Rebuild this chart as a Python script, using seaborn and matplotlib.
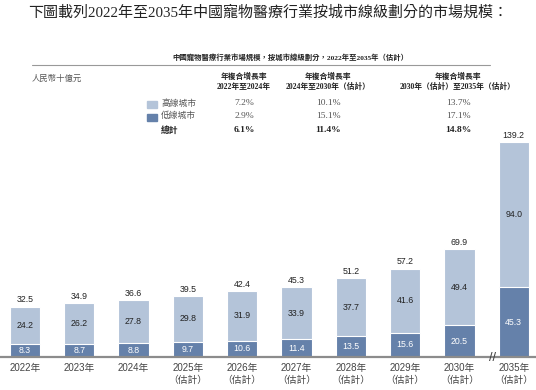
import matplotlib
matplotlib.use("Agg")
import matplotlib.pyplot as plt
import seaborn as sns
import pandas as pd

# data
years = ["2022年", "2023年", "2024年", "2025年\n（估計）", "2026年\n（估計）", "2027年\n（估計）",
         "2028年\n（估計）", "2029年\n（估計）", "2030年\n（估計）", "2035年\n（估計）"]
high_tier = [24.2, 26.2, 27.8, 29.8, 31.9, 33.9, 37.7, 41.6, 49.4, 94.0]
low_tier = [8.3, 8.7, 8.8, 9.7, 10.6, 11.4, 13.5, 15.6, 20.5, 45.3]
totals = [32.5, 34.9, 36.6, 39.5, 42.4, 45.3, 51.2, 57.2, 69.9, 139.2]

cagr_headers = ["年複合增長率\n2022年至2024年", "年複合增長率\n2024年至2030年（估計）",
                "年複合增長率\n2030年（估計）至2035年（估計）"]
cagr_high = ["7.2%", "10.1%", "13.7%"]
cagr_low = ["2.9%", "15.1%", "17.1%"]
cagr_total = ["6.1%", "11.4%", "14.8%"]

light = "#B4C4D9"
dark = "#6581AA"
serif = ["Liberation Serif", "Noto Sans CJK TC"]
sans = ["Liberation Sans", "Noto Sans CJK TC"]

sns.set_theme(style="white")
plt.rcParams["font.family"] = sans

df = pd.DataFrame({"year": years, "high": high_tier, "low": low_tier, "total": totals})

W, H = 536, 390
fig = plt.figure(figsize=(W / 100, H / 100), dpi=100)
base_px = 357
top_px = 132
ax = fig.add_axes([0, (H - base_px) / H, 1, (base_px - top_px) / H])

sns.barplot(data=df, x="year", y="total", color=light, saturation=1, width=0.56,
            edgecolor="white", linewidth=0.8, ax=ax)
sns.barplot(data=df, x="year", y="low", color=dark, saturation=1, width=0.56,
            edgecolor="white", linewidth=0.8, ax=ax)

ax.set_ylim(0, (base_px - top_px) / 1.545)
ax.set_xlim(-0.46, 9.41)
ax.set_xlabel("")
ax.set_ylabel("")
ax.set_yticks([])
for s in ["top", "left", "right"]:
    ax.spines[s].set_visible(False)
ax.spines["bottom"].set_color("#8c8c8c")
ax.spines["bottom"].set_linewidth(1.6)
ax.tick_params(axis="x", length=0, pad=4, labelsize=7, labelcolor="#444444")
ax.set_xticks(range(len(years)))
ax.set_xticklabels(years, linespacing=1.3)

for i in range(len(years)):
    ax.text(i, low_tier[i] / 2, f"{low_tier[i]:.1f}", ha="center", va="center",
            fontsize=6.3, color="white")
    ax.text(i, low_tier[i] + high_tier[i] / 2, f"{high_tier[i]:.1f}", ha="center", va="center",
            fontsize=6.3, color="#222222")
    ax.text(i, totals[i] + 1.5, f"{totals[i]:.1f}", ha="center", va="bottom",
            fontsize=6.3, color="#222222")

# axis break mark
ax.text(8.6, 0, "//", ha="center", va="center", fontsize=7, color="#444444",
        family="DejaVu Sans", fontweight="bold")


def fx(px):
    return px / W


def fy(py):
    return 1 - py / H


fig.text(fx(268), fy(13), "下圖載列2022年至2035年中國寵物醫療行業按城市線級劃分的市場規模：",
         ha="center", va="center", fontsize=10.8, family=serif, fontweight="light", color="#222222")
fig.text(fx(290), fy(57), "中國寵物醫療行業市場規模，按城市線級劃分，2022年至2035年（估計）",
         ha="center", va="center", fontsize=5.3, fontweight="bold", family=serif, color="#222222")
fig.add_artist(plt.Line2D([fx(32), fx(490)], [fy(65), fy(65)], color="#999999", lw=0.8))
fig.text(fx(32), fy(79), "人民幣十億元", ha="left", va="center", fontsize=6,
         fontweight="light", family=serif, color="#555555")

col_x = [244, 328, 458]
for x, h in zip(col_x, cagr_headers):
    fig.text(fx(x), fy(82), h, ha="center", va="center", fontsize=5.6, fontweight="bold",
             family=serif, color="#222222", linespacing=1.25)

rows_y = [103, 116, 130]
fig.add_artist(plt.Rectangle((fx(147), fy(108)), fx(10), 7 / H, color=light, transform=fig.transFigure))
fig.add_artist(plt.Rectangle((fx(147), fy(121)), fx(10), 7 / H, color=dark, transform=fig.transFigure))
fig.text(fx(161), fy(rows_y[0]), "高線城市", ha="left", va="center", fontsize=6.3,
         fontweight="light", family=serif, color="#555555")
fig.text(fx(161), fy(rows_y[1]), "低線城市", ha="left", va="center", fontsize=6.3,
         fontweight="light", family=serif, color="#555555")
fig.text(fx(161), fy(rows_y[2]), "總計", ha="left", va="center", fontsize=6.3, fontweight="bold",
         family=serif, color="#222222")
for x, a, b, c in zip(col_x, cagr_high, cagr_low, cagr_total):
    fig.text(fx(x), fy(rows_y[0]), a, ha="center", va="center", fontsize=6.8, family=serif, color="#555555")
    fig.text(fx(x), fy(rows_y[1]), b, ha="center", va="center", fontsize=6.8, family=serif, color="#555555")
    fig.text(fx(x), fy(rows_y[2]), c, ha="center", va="center", fontsize=6.8, fontweight="bold",
             family=serif, color="#222222")

fig.savefig("out.png", dpi=100)
